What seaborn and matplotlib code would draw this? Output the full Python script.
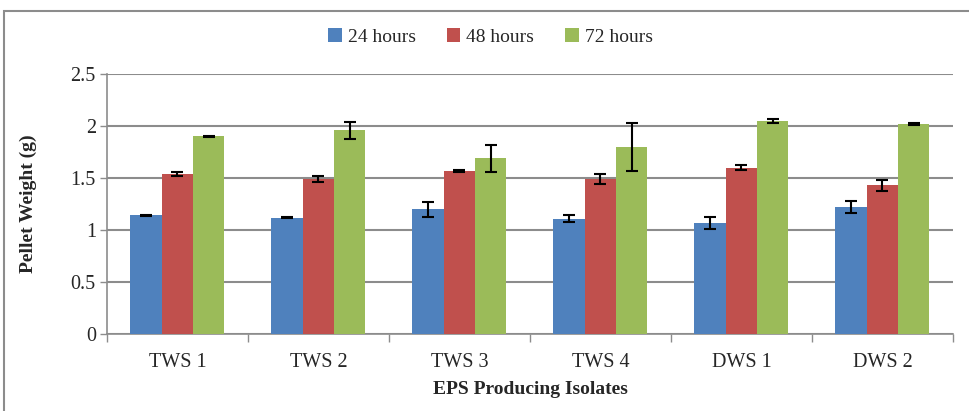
import numpy as np
import pandas as pd
import matplotlib
matplotlib.use("Agg")
import matplotlib.pyplot as plt
import matplotlib.ticker as mticker
from matplotlib.patches import Rectangle
import seaborn as sns

isolates = ["TWS 1", "TWS 2", "TWS 3", "TWS 4", "DWS 1", "DWS 2"]
times = ["24 hours", "48 hours", "72 hours"]

w24 = [1.14, 1.12, 1.20, 1.11, 1.07, 1.22]
w48 = [1.54, 1.49, 1.57, 1.49, 1.60, 1.43]
w72 = [1.90, 1.96, 1.69, 1.80, 2.05, 2.02]

err24 = [0.006, 0.006, 0.07, 0.035, 0.06, 0.06]
err48 = [0.02, 0.03, 0.01, 0.045, 0.025, 0.05]
err72 = [0.006, 0.08, 0.13, 0.23, 0.02, 0.01]

colors = ["#4F81BD", "#C0504D", "#9BBB59"]

df = pd.DataFrame({
    "Isolate": isolates * 3,
    "Time": [t for t in times for _ in isolates],
    "Weight": w24 + w48 + w72,
    "Err": err24 + err48 + err72,
})

sns.set_style("white")
plt.rcParams["font.family"] = ["Liberation Serif", "DejaVu Serif"]

fig = plt.figure(figsize=(9.69, 4.11), dpi=100)
ax = fig.add_axes([0.1104, 0.1873, 0.873, 0.6326])

sns.barplot(data=df, x="Isolate", y="Weight", hue="Time", palette=colors,
            errorbar=None, width=0.667, saturation=1, ax=ax, zorder=3,
            edgecolor="none")

# error bars on each bar, in the order the patches were drawn
bars = [p for p in ax.patches if p.get_height() > 0]
for bar, val, err in zip(bars, df["Weight"], df["Err"]):
    xc = bar.get_x() + bar.get_width() / 2
    ax.errorbar(xc, val, yerr=err, fmt="none", ecolor="black",
                elinewidth=1.5, capsize=4, capthick=1.5, zorder=4)

ax.set_ylim(0, 2.5)
ax.set_xlim(-0.5, 5.5)
ax.set_yticks(np.arange(0, 2.51, 0.5))
ax.yaxis.set_major_formatter(mticker.FormatStrFormatter("%g"))
ax.yaxis.grid(True, color="#8c8c8c", linewidth=1.5, zorder=0)
ax.set_axisbelow(True)

ax.xaxis.set_minor_locator(mticker.FixedLocator(np.arange(-0.5, 5.6, 1)))
ax.tick_params(axis="x", which="major", length=0, labelsize=14.5, pad=14)
ax.tick_params(axis="x", which="minor", length=6, width=1, color="#8c8c8c",
               direction="out", bottom=True)
ax.tick_params(axis="y", length=5, width=1, color="#8c8c8c", direction="out",
               labelsize=14.5, left=True, pad=3)

for s in ["top", "right"]:
    ax.spines[s].set_visible(False)
for s in ["left", "bottom"]:
    ax.spines[s].set_color("#8c8c8c")
    ax.spines[s].set_linewidth(1.2)

ax.set_xlabel("EPS Producing Isolates", fontsize=14, fontweight="bold", labelpad=6)
ax.set_ylabel("Pellet Weight (g)", fontsize=14, fontweight="bold", labelpad=24)

handles, labels = ax.get_legend_handles_labels()
ax.legend(handles, labels, loc="center", bbox_to_anchor=(0.506, 0.91),
          bbox_transform=fig.transFigure, ncol=3, frameon=False, fontsize=14,
          handlelength=0.7, handleheight=0.7, handletextpad=0.3,
          columnspacing=1.6)

# outer chart frame
fig.patches.append(Rectangle((0.004, -0.05), 1.2, 0.024 + 1.0,
                             transform=fig.transFigure, fill=False,
                             edgecolor="#8c8c8c", linewidth=1.5))

fig.savefig("out.png", dpi=100)
